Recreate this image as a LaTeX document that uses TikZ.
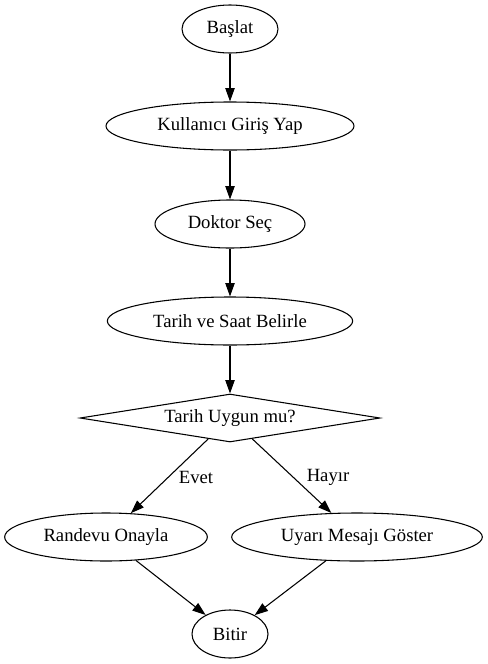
\documentclass[tikz,border=0pt]{standalone}
\usepackage{fontspec}
\setmainfont{Liberation Serif}
\usetikzlibrary{shapes.geometric,arrows.meta}
\begin{document}
\begin{tikzpicture}[x=0.75pt,y=-0.75pt,
  every node/.style={font=\fontsize{14pt}{16pt}\selectfont},
  ell/.style={draw,ellipse,line width=0.8pt,inner sep=0pt,minimum height=36pt},
  dia/.style={draw,diamond,aspect=6.25,line width=0.8pt,inner sep=0pt,minimum height=36pt},
  arr/.style={draw,line width=0.8pt,-{Triangle[length=10pt,width=7pt]}},
  lbl/.style={inner sep=0pt}]
\useasboundingbox (0,0) rectangle (488,664);
\node[ell,minimum width=72pt] (start) at (230,29) {Başlat};
\node[ell,minimum width=186pt] (login) at (230,126) {Kullanıcı Giriş Yap};
\node[ell,minimum width=112.5pt] (doc) at (230,224) {Doktor Seç};
\node[ell,minimum width=184pt] (date) at (230,321) {Tarih ve Saat Belirle};
\node[dia,minimum width=225pt] (check) at (230,418) {Tarih Uygun mu?};
\node[ell,minimum width=152pt] (ok) at (106,537) {Randevu Onayla};
\node[ell,minimum width=188pt] (warn) at (357,537) {Uyarı Mesajı Göster};
\node[ell,minimum width=57pt] (end) at (230,634) {Bitir};
\node[lbl] (evet) at (196,477) {Evet};
\node[lbl] (hayir) at (328,477) {Hayır};
\draw[arr] (start) -- (login);
\draw[arr] (login) -- (doc);
\draw[arr] (doc) -- (date);
\draw[arr] (date) -- (check);
\draw[arr] (check) -- (ok);
\draw[arr] (check) -- (warn);
\draw[arr] (ok) -- (end);
\draw[arr] (warn) -- (end);
\end{tikzpicture}
\end{document}
